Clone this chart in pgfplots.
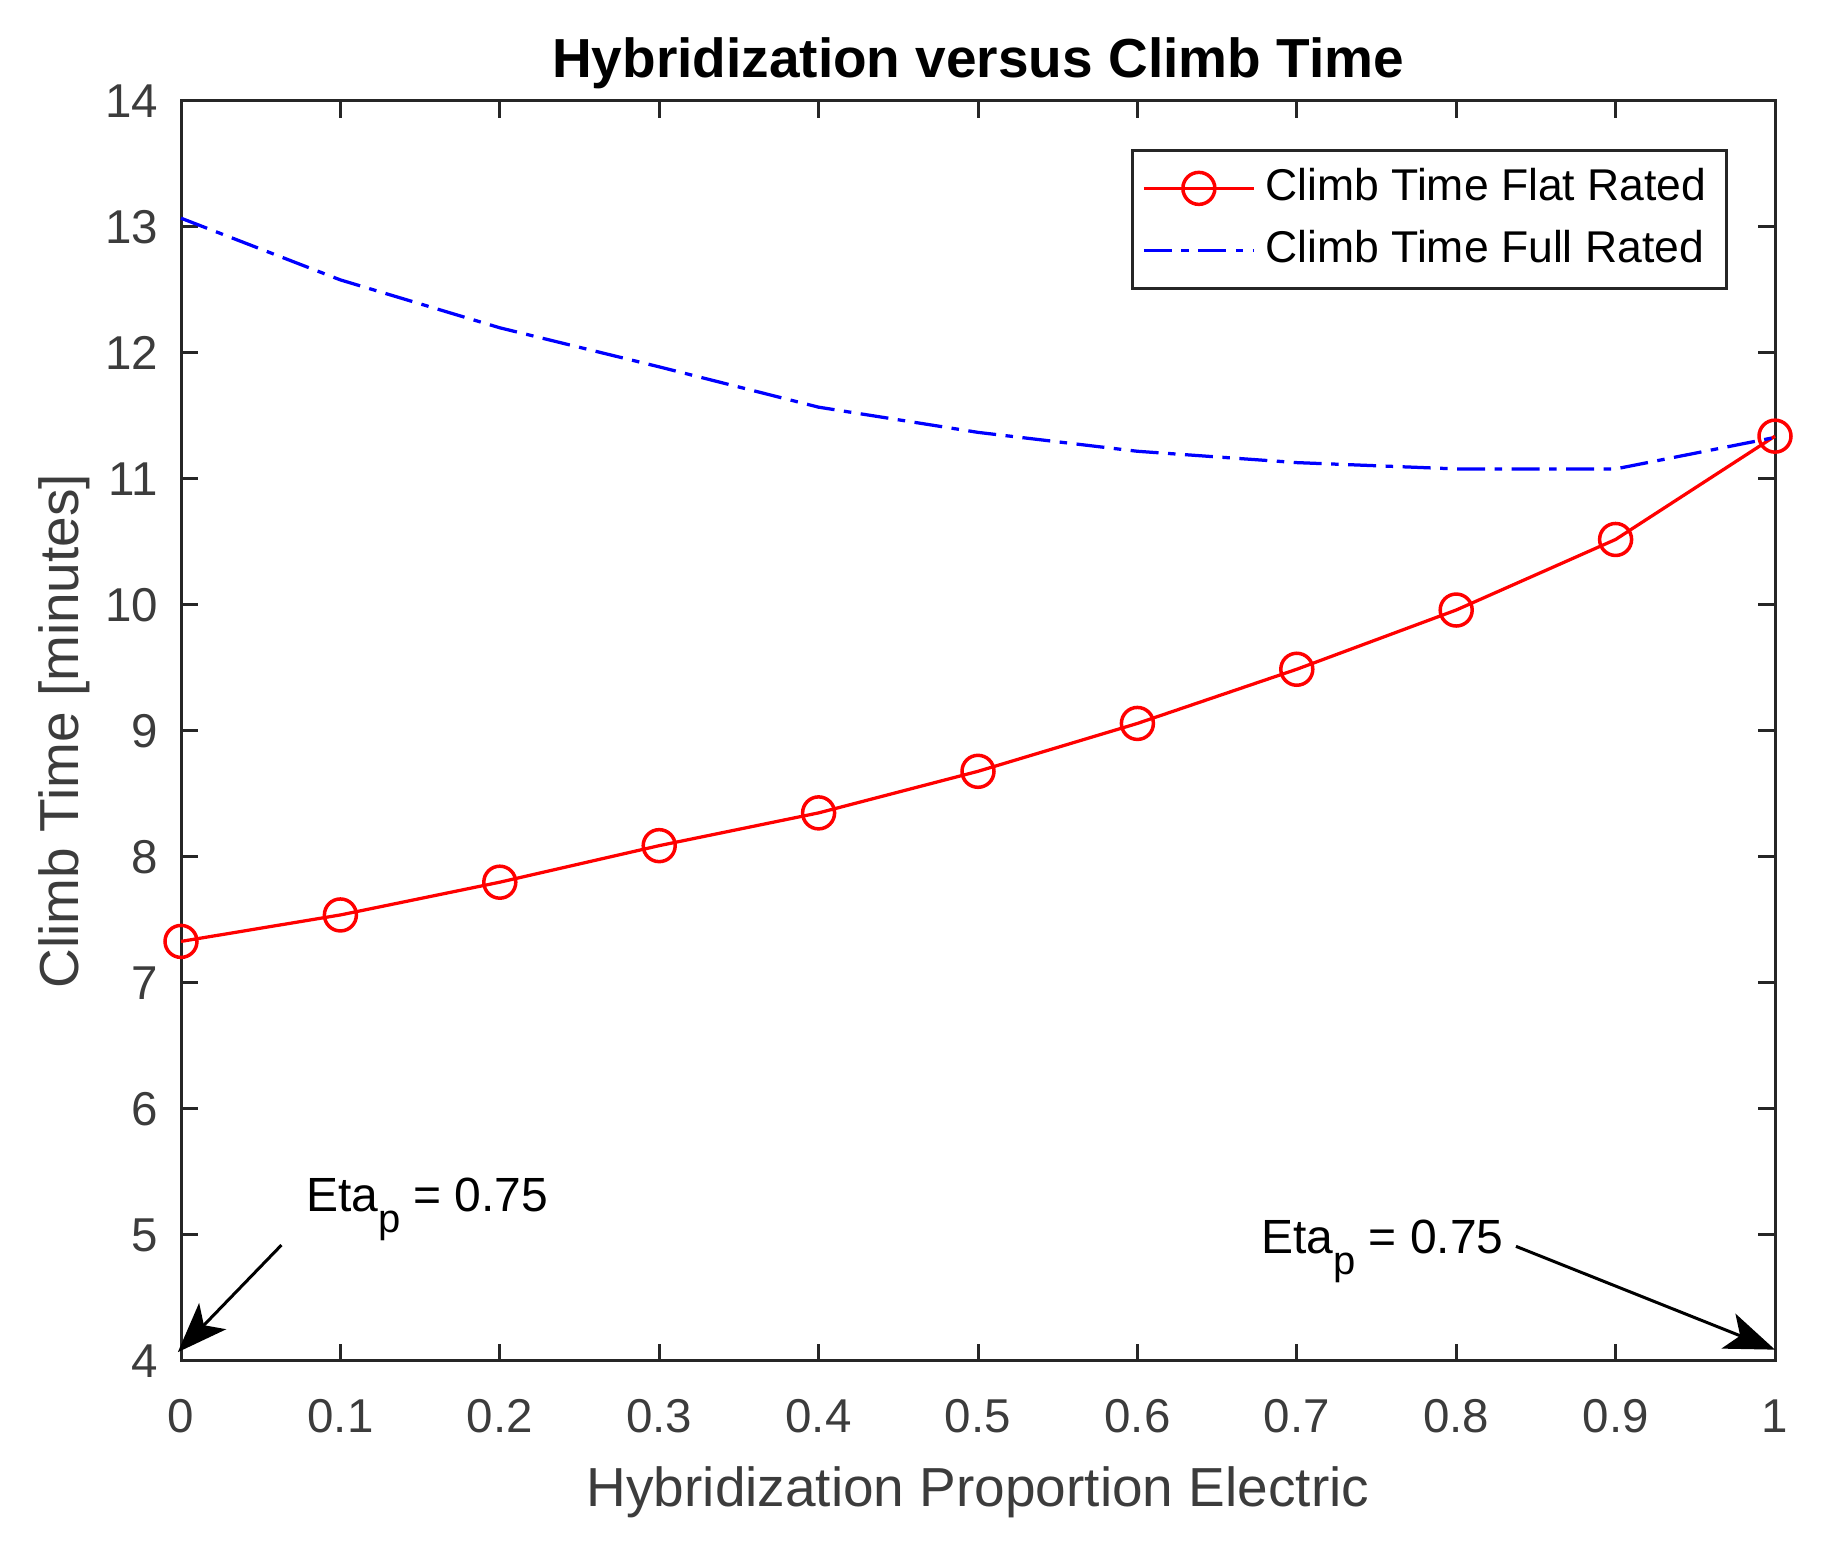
\documentclass[border=0pt]{standalone}
\usepackage{fontspec}
\setmainfont{Liberation Sans}
\usepackage{pgfplots}
\pgfplotsset{compat=1.18}
\usetikzlibrary{arrows.meta}
\definecolor{axgray}{RGB}{38,38,38}
\definecolor{txtgray}{RGB}{60,60,60}
\begin{document}
\begin{tikzpicture}
\useasboundingbox (-36.2pt,-38.4pt) rectangle (328.2pt,272.2pt);
\begin{axis}[
  scale only axis, width=318.8pt, height=252pt,
  xmin=0, xmax=1, ymin=4, ymax=14,
  xtick={0,0.1,0.2,0.3,0.4,0.5,0.6,0.7,0.8,0.9,1},
  xticklabels={0,0.1,0.2,0.3,0.4,0.5,0.6,0.7,0.8,0.9,1},
  ytick={4,5,6,7,8,9,10,11,12,13,14},
  yticklabels={4,5,6,7,8,9,10,11,12,13,14},
  tick align=inside, major tick length=3.4pt,
  axis line style={draw=axgray, line width=0.6pt},
  tick style={draw=axgray, line width=0.6pt},
  ticklabel style={font=\fontsize{9.5}{11}\selectfont, text=txtgray},
  xticklabel style={yshift=-4.2pt},
  yticklabel style={xshift=-1.1pt},
  clip=false,
  title={Hybridization versus Climb Time},
  title style={at={(axis description cs:0.5,0.9952)}, anchor=base, font=\fontsize{11}{13}\selectfont\bfseries, text=black},
  xlabel={Hybridization Proportion Electric},
  xlabel style={at={(axis description cs:0.5,-0.1151)}, anchor=base, font=\fontsize{11}{13}\selectfont, text=txtgray},
  ylabel={Climb Time [minutes]},
  ylabel style={at={(axis description cs:-0.0643,0.5)}, anchor=base, font=\fontsize{11}{13}\selectfont, text=txtgray},
  legend style={at={(axis description cs:0.9705,0.9619)}, anchor=north east, draw=axgray, line width=0.6pt, fill=white,
    font=\fontsize{8.9}{10}\selectfont, text=black, inner xsep=2pt, inner ysep=1.6pt, row sep=0.5pt, column sep=0pt},
  legend cell align=left,
  legend image code/.code={\draw[mark repeat=2,mark phase=2,#1] plot coordinates {(0pt,0pt) (11pt,0pt) (22pt,0pt)};},
]
\addplot[color=red, line width=0.65pt, mark=o, mark size=3.2pt, mark options={solid, line width=0.7pt}] coordinates {
(0,7.33) (0.1,7.54) (0.2,7.80) (0.3,8.09) (0.4,8.35) (0.5,8.68) (0.6,9.06) (0.7,9.49) (0.8,9.96) (0.9,10.52) (1.0,11.34)
};
\addlegendentry{Climb Time Flat Rated}
\addplot[color=blue, line width=0.65pt, dash pattern=on 5.6pt off 1.9pt on 1.5pt off 1.9pt] coordinates {
(0,13.07) (0.1,12.58) (0.2,12.20) (0.3,11.89) (0.4,11.57) (0.5,11.37) (0.6,11.22) (0.7,11.13) (0.8,11.08) (0.9,11.08) (1.0,11.33)
};
\addlegendentry{Climb Time Full Rated}
\draw[line width=0.6pt, -{Stealth[length=10pt,width=7.5pt,inset=2.5pt]}] (axis cs:0.063,4.92) -- (axis cs:-0.002,4.07);
\draw[line width=0.6pt, -{Stealth[length=10pt,width=7.5pt,inset=2.5pt]}] (axis cs:0.8375,4.91) -- (axis cs:1.0,4.09);
\node[anchor=base west, inner sep=0pt, font=\fontsize{9.6}{11}\selectfont] at (axis cs:0.0778,5.19) {Eta\raisebox{-4.2pt}{\fontsize{8}{9}\selectfont p} = 0.75};
\node[anchor=base west, inner sep=0pt, font=\fontsize{9.6}{11}\selectfont] at (axis cs:0.677,4.85) {Eta\raisebox{-4.2pt}{\fontsize{8}{9}\selectfont p} = 0.75};
\end{axis}
\end{tikzpicture}
\end{document}
